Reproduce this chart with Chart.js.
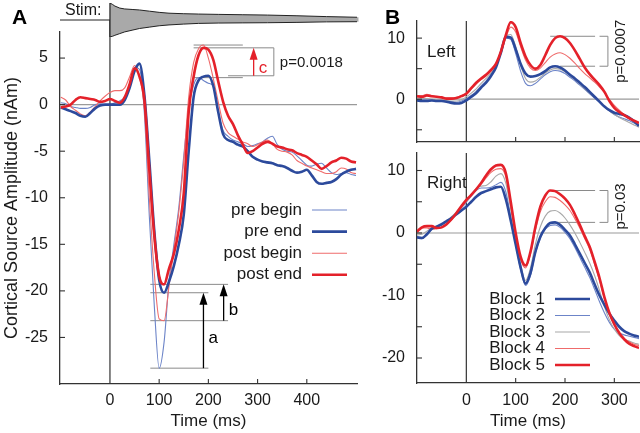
<!DOCTYPE html>
<html><head><meta charset="utf-8">
<script src="https://cdn.jsdelivr.net/npm/chart.js@4.4.1/dist/chart.umd.min.js"></script>
<style>
html,body{margin:0;padding:0;background:#fff;}
#wrap{position:relative;width:640px;height:433px;overflow:hidden;background:#fff;}
canvas{position:absolute;}
</style></head><body>
<div id="wrap">
<canvas id="cA" width="360" height="433" style="left:0;top:0;width:360px;height:433px"></canvas>
<canvas id="cStim" width="360" height="40" style="left:0;top:0;width:360px;height:40px"></canvas>
<canvas id="cBL" width="280" height="145" style="left:360px;top:0;width:280px;height:145px"></canvas>
<canvas id="cBR" width="280" height="288" style="left:360px;top:145px;width:280px;height:288px"></canvas>
</div>
<script>
// ---------------- DATA ----------------
const timeA = [-100,-90,-80,-70,-60,-50,-40,-30,-20,-10,0,10,20,30,40,50,60,70,80,90,100,110,120,130,140,150,160,170,180,190,200,210,220,230,240,250,260,270,280,290,300,310,320,330,340,350,360,370,380,390,400,410,420,430,440,450,460,470,480,490,500];
const seriesA = ['pre begin','pre end','post begin','post end'];
const preBegin = [
 0.2,0.1,-0.2,-0.3,-0.4,-0.4,-0.3,0.0,0.1,0.0,
 0.0,0.2,0.4,0.8,2.0,4.0,3.8,-1.0,-12.0,-21.5,
 -28.3,-25.5,-19.0,-15.0,-11.0,-5.5,-0.5,2.1,2.9,2.6,
 2.3,2.0,-0.8,-2.8,-3.4,-3.8,-4.0,-4.2,-4.5,-4.4,
 -4.2,-4.0,-3.6,-3.4,-4.3,-4.8,-5.0,-5.1,-5.5,-6.0,
 -6.5,-6.6,-6.4,-6.3,-6.8,-7.3,-7.5,-7.4,-7.3,-7.5,
 -7.6];
const preEnd = [
 -0.3,-0.5,-0.7,-0.9,-1.2,-1.3,-0.9,-0.4,-0.1,0.0,
 0.0,0.0,0.0,0.5,1.8,3.6,4.4,1.0,-6.0,-13.5,
 -18.8,-20.2,-19.0,-17.3,-15.0,-11.8,-5.0,0.8,2.6,3.0,
 3.1,2.0,-0.8,-3.2,-3.8,-4.0,-4.3,-4.5,-5.0,-5.6,
 -5.9,-6.1,-6.2,-6.3,-6.5,-6.6,-6.8,-7.1,-7.3,-7.2,
 -7.0,-7.6,-8.3,-8.5,-8.4,-8.3,-8.0,-7.5,-7.2,-7.0,
 -6.9];
const postBegin = [
 0.8,0.5,-0.2,-0.6,-1.0,-1.2,-0.8,-0.2,0.4,0.9,
 1.3,1.5,1.5,1.8,3.0,4.2,3.0,-0.5,-10.0,-18.0,
 -23.0,-23.2,-19.5,-15.5,-11.5,-6.0,0.8,4.5,6.0,6.4,
 5.0,2.8,0.3,-2.0,-3.0,-3.4,-3.7,-4.0,-4.2,-4.5,
 -4.3,-4.0,-3.8,-4.2,-4.8,-5.0,-5.1,-5.4,-6.0,-6.3,
 -6.6,-6.8,-7.0,-7.2,-7.4,-7.4,-7.2,-6.8,-6.9,-7.3,
 -7.4];
const postEnd = [
 -0.3,-0.2,0.0,0.5,0.8,0.7,0.6,0.5,0.3,0.4,
 0.6,0.4,0.2,0.8,2.2,3.9,3.0,0.5,-7.0,-14.0,
 -18.4,-19.3,-17.6,-16.0,-13.4,-9.5,-0.8,3.0,5.3,6.1,
 5.9,4.8,2.5,0.3,-1.2,-2.1,-3.3,-4.3,-5.2,-5.0,
 -4.6,-4.2,-4.0,-4.2,-4.5,-4.6,-4.8,-4.9,-5.2,-5.4,
 -5.6,-6.0,-6.4,-6.9,-6.6,-6.2,-6.0,-5.7,-5.8,-6.1,
 -6.2];
const ticksAx = [0,100,200,300,400];
const ticksAy = [-25,-20,-15,-10,-5,0,5];

const timeStim = [0,5,10,20,30,45,60,80,100,120,150,180,220,270,320,380,440,505];
const stimUpper = [1.0,0.92,0.82,0.7,0.65,0.62,0.59,0.52,0.45,0.4,0.37,0.35,0.33,0.31,0.29,0.25,0.2,0.16];
const stimLower = [-1.0,-0.96,-0.9,-0.8,-0.7,-0.6,-0.5,-0.42,-0.34,-0.29,-0.24,-0.2,-0.18,-0.17,-0.16,-0.14,-0.11,-0.1];

const timeB = [-100,-90,-80,-70,-60,-50,-40,-30,-20,-10,0,10,20,30,40,50,60,70,80,90,100,110,120,130,140,150,160,170,180,190,200,210,220,230,240,250,260,270,280,290,300,310,320,330,340,350];
const blocks = ['Block 1','Block 2','Block 3','Block 4','Block 5'];
const leftB1 = [-0.2,-0.3,-0.3,-0.2,-0.3,-0.3,-0.4,-0.6,-0.7,-0.6, -0.2,0.4,1.0,1.9,2.7,3.8,5.2,7.6,10.2,10.1, 8.2,5.8,4.2,3.7,3.8,4.1,4.6,5.2,5.4,5.2, 4.7,4.0,3.4,2.7,2.0,1.2,0.4,-0.4,-1.2,-1.8, -2.2,-2.4,-2.6,-3.0,-3.6,-4.4];
const leftB2 = [0.0,-0.1,-0.1,-0.1,-0.2,-0.2,-0.3,-0.4,-0.5,-0.3, 0.1,0.6,1.3,2.2,3.0,4.0,5.4,7.8,10.0,9.8, 7.5,4.6,2.6,2.2,2.6,3.3,4.0,4.5,4.7,4.6, 4.2,3.6,3.0,2.3,1.6,0.9,0.2,-0.5,-1.2,-1.9, -2.5,-2.9,-3.2,-3.5,-3.9,-4.3];
const leftB3 = [0.2,0.1,0.1,0.0,-0.1,-0.1,-0.2,-0.3,-0.3,-0.1, 0.4,1.0,1.7,2.6,3.4,4.3,5.6,7.9,10.3,10.6, 8.6,5.6,3.4,2.8,3.0,3.6,4.3,4.8,5.0,4.9, 4.5,3.9,3.2,2.5,1.7,1.0,0.3,-0.4,-1.2,-1.9, -2.5,-3.0,-3.4,-3.8,-4.2,-4.6];
const leftB4 = [0.6,0.6,0.8,0.6,0.4,0.3,0.2,0.2,0.3,0.6, 1.0,1.7,2.5,3.2,3.8,4.6,5.6,7.5,10.0,11.8, 11.0,8.6,6.4,5.1,4.7,5.1,6.0,6.9,7.4,7.6, 7.3,6.7,5.9,5.0,4.2,3.5,2.8,2.0,1.1,0.0, -1.0,-1.8,-2.5,-3.2,-3.7,-4.2];
const leftB5 = [0.5,0.4,0.6,0.5,0.4,0.3,0.1,0.1,0.2,0.5, 0.9,1.8,2.7,3.4,4.0,4.8,5.8,7.8,10.5,12.6, 11.8,9.2,7.0,5.6,5.0,5.6,7.2,8.9,10.0,10.3, 10.0,9.2,8.0,6.6,5.2,4.1,3.2,2.3,1.2,-0.3, -1.4,-2.1,-2.6,-3.1,-3.5,-3.9];
const rightB1 = [-0.7,-0.8,-0.2,0.7,1.0,1.4,1.9,2.4,3.0,3.6, 4.2,5.0,5.8,6.4,6.7,7.0,7.3,7.4,5.4,2.0, -1.8,-5.5,-8.1,-6.4,-3.0,-0.6,0.8,1.6,1.7,1.3, 0.5,-0.4,-1.8,-3.3,-4.8,-6.3,-8.2,-10.0,-11.5,-12.9, -14.0,-15.0,-15.7,-16.1,-16.4,-16.6];
const rightB2 = [-0.6,-0.9,-0.3,0.6,1.0,1.3,1.8,2.5,3.2,4.0, 4.9,5.9,6.8,7.2,7.2,7.3,7.7,8.1,6.6,2.6, -1.8,-5.8,-8.4,-6.8,-3.2,-0.8,0.6,1.2,1.3,0.9, 0.1,-0.9,-2.3,-3.9,-5.5,-7.1,-9.0,-11.0,-12.8,-14.3, -15.4,-16.0,-16.3,-16.5,-16.7,-16.9];
const rightB3 = [-0.3,-0.2,0.3,0.8,1.1,1.4,1.9,2.6,3.4,4.3, 5.2,6.2,7.1,7.5,7.6,8.2,9.1,9.5,8.0,3.8, -0.9,-5.0,-7.6,-5.6,-1.8,1.0,2.7,3.5,3.6,3.2, 2.4,1.3,0.0,-1.5,-3.1,-4.8,-6.8,-9.2,-11.8,-13.9, -15.4,-16.4,-17.0,-17.3,-17.6,-17.8];
const rightB4 = [0.5,0.8,0.8,0.6,0.7,0.9,1.4,2.1,3.1,4.1, 5.1,6.0,6.9,7.8,8.8,9.7,10.2,10.3,9.0,4.6, -0.3,-4.2,-5.6,-3.4,0.4,3.4,5.0,5.8,5.7,5.2, 4.5,3.6,2.3,0.8,-0.9,-2.6,-5.0,-7.6,-10.5,-12.9, -14.8,-16.0,-16.9,-17.4,-17.8,-18.0];
const rightB5 = [0.2,0.9,1.1,1.1,0.8,0.9,1.4,2.2,3.2,4.3, 5.3,6.1,7.0,8.0,9.2,10.2,10.8,10.9,9.6,5.0, 0.0,-3.8,-5.2,-3.0,1.0,4.2,6.0,6.8,6.7,6.2, 5.5,4.5,3.0,1.3,-0.5,-2.2,-4.6,-7.2,-10.3,-12.8, -14.6,-16.0,-17.0,-17.7,-18.1,-18.4];
const ticksBx = [0,100,200,300];
const ticksBLeftY = [0,10];
const ticksBRightY = [-20,-10,0,10];
const pLeft = 'p=0.0007', pRight = 'p=0.03', pA = 'p=0.0018';

// ---------------- STYLE ----------------
const FONT = '"Liberation Sans", Arial, Helvetica, sans-serif';
const C = {thickBlue:'#2c4a9c', thinBlue:'#6c84c8', thickRed:'#e4212a', thinRed:'#ef6b6b', gray:'#a8a8a8',
           axis:'#333', zero:'#9a9a9a', ref:'#8a8a8a', text:'#1a1a1a', stim:'#a9a9a9'};
Chart.defaults.font.family = FONT;
Chart.defaults.color = C.text;

function pts(t, v){ return t.map((x,i)=>({x:x, y:v[i]})); }
function ds(label, t, v, color, w, order){
  return {label, data: pts(t,v), borderColor: color, borderWidth: w, pointRadius: 0, fill: false,
          cubicInterpolationMode: 'monotone', order};
}
function ext(t, v, t0, t1, fn){ return fn(...v.filter((_,i)=>t[i]>=t0 && t[i]<=t1)); }
function hline(ctx, x0, x1, y){ ctx.beginPath(); ctx.moveTo(x0,y); ctx.lineTo(x1,y); ctx.stroke(); }
function vline(ctx, x, y0, y1){ ctx.beginPath(); ctx.moveTo(x,y0); ctx.lineTo(x,y1); ctx.stroke(); }
function arrowUp(ctx, x, yb, yt, color){
  ctx.strokeStyle = color; ctx.fillStyle = color; ctx.lineWidth = 1.3;
  vline(ctx, x, yb, yt + 9);
  ctx.beginPath(); ctx.moveTo(x, yt); ctx.lineTo(x-4, yt+12); ctx.lineTo(x+4, yt+12); ctx.closePath(); ctx.fill();
}
function inwardTicks(chart, xs, ys){
  const {ctx, chartArea:a, scales:{x,y}} = chart;
  ctx.save(); ctx.strokeStyle = C.axis; ctx.lineWidth = 1.1;
  xs.forEach(v=>vline(ctx, x.getPixelForValue(v), a.bottom, a.bottom-5));
  ys.forEach(v=>hline(ctx, a.left, a.left+5, y.getPixelForValue(v)));
  ctx.restore();
}
function scales(o){
  return {
    x: {type:'linear', min:o.xmin, max:o.xmax,
      afterFit: s=>{ s.height = o.xh; s.paddingLeft = 0; s.paddingRight = 0; },
      afterBuildTicks: s=>{ s.ticks = o.xticks.map(v=>({value:v})); },
      grid:{display:false, drawTicks:false}, border:{display:true, color:C.axis, width:1.3},
      ticks:{display:o.xlabels, color:C.text, font:{size:16}, padding:o.xpad||7, maxRotation:0, autoSkip:false},
      title:{display:!!o.xtitle, text:o.xtitle||'', color:C.text, font:{size:17}, padding:{top:0,bottom:1}}
    },
    y: {type:'linear', min:o.ymin, max:o.ymax,
      afterFit: s=>{ s.width = o.yw; s.paddingTop = 0; s.paddingBottom = 0; },
      afterBuildTicks: s=>{ s.ticks = o.yticks.map(v=>({value:v})); },
      grid:{display:false, drawTicks:false}, border:{display:true, color:C.axis, width:1.3},
      ticks:{color:C.text, font:{size:16}, padding:12, autoSkip:false},
      title:{display:!!o.ytitle, text:o.ytitle||'', color:C.text, font:{size:18}, padding:{top:1,bottom:0}}
    }
  };
}
const baseOpts = {responsive:false, animation:false, events:[], plugins:{legend:{display:false}, tooltip:{enabled:false}}};

// ---------------- PANEL A ----------------
const styleA = [
  {color:C.thinBlue, w:1.1, order:3},
  {color:C.thickBlue, w:2.6, order:1},
  {color:C.thinRed, w:1.1, order:2},
  {color:C.thickRed, w:2.6, order:0}
];
const valuesA = [preBegin, preEnd, postBegin, postEnd];

const decoA = {
  id:'decoA',
  beforeDatasetsDraw(chart){
    const {ctx, chartArea:a, scales:{x,y}} = chart;
    const X = v=>x.getPixelForValue(v), Y = v=>y.getPixelForValue(v);
    ctx.save();
    ctx.strokeStyle = C.zero; ctx.lineWidth = 1.2; hline(ctx, a.left, a.right, Y(0));
    ctx.strokeStyle = C.axis; ctx.lineWidth = 1.2; vline(ctx, X(0), a.top-12, a.bottom);
    const pkPB = ext(timeA, preBegin, 150, 260, Math.max), pkPE = ext(timeA, preEnd, 150, 260, Math.max);
    const pkQB = ext(timeA, postBegin, 150, 260, Math.max), pkQE = ext(timeA, postEnd, 150, 260, Math.max);
    ctx.strokeStyle = C.ref; ctx.lineWidth = 1;
    hline(ctx, X(170), X(270), Y(pkQB));
    hline(ctx, X(170), X(333), Y(pkQE));
    hline(ctx, X(170), X(270), Y(pkPB));
    hline(ctx, X(240), X(333), Y(pkPE));
    vline(ctx, X(333), Y(pkQE), Y(pkPE));
    const trPB = Math.min(...preBegin), trPE = Math.min(...preEnd), trQB = Math.min(...postBegin), trQE = Math.min(...postEnd);
    hline(ctx, X(82), X(240), Y(trQE));
    hline(ctx, X(82), X(200), Y(trPE));
    hline(ctx, X(82), X(240), Y(trQB));
    hline(ctx, X(82), X(200), Y(trPB));
    ctx.restore();
  },
  afterDraw(chart){
    const {ctx, chartArea:a, scales:{x,y}} = chart;
    const X = v=>x.getPixelForValue(v), Y = v=>y.getPixelForValue(v);
    inwardTicks(chart, [100,200,300,400], ticksAy);
    ctx.save();
    const pkPE = ext(timeA, preEnd, 150, 260, Math.max), pkQE = ext(timeA, postEnd, 150, 260, Math.max);
    const trPB = Math.min(...preBegin), trPE = Math.min(...preEnd), trQB = Math.min(...postBegin), trQE = Math.min(...postEnd);
    ctx.font = '17px ' + FONT; ctx.textBaseline = 'middle'; ctx.textAlign = 'left';
    arrowUp(ctx, X(190), Y(trPB), Y(trPE), '#000');
    arrowUp(ctx, X(231), Y(trQB), Y(trQE), '#000');
    ctx.fillStyle = '#000';
    ctx.fillText('a', X(190)+5, (Y(trPB)+Y(trPE))/2+8);
    ctx.fillText('b', X(231)+5, (Y(trQB)+Y(trQE))/2+8);
    arrowUp(ctx, X(292), Y(pkPE), Y(pkQE), C.thickRed);
    ctx.fillStyle = C.thickRed;
    ctx.fillText('c', X(292)+5, (Y(pkPE)+Y(pkQE))/2+7);
    ctx.fillStyle = C.text; ctx.font = '15px ' + FONT;
    ctx.fillText(pA, X(333)+6, (Y(pkPE)+Y(pkQE))/2+1);
    ctx.font = '17px ' + FONT;
    seriesA.forEach((lab,i)=>{
      const yy = a.top + 178 + i*21.6;
      ctx.fillStyle = C.text; ctx.textAlign = 'right'; ctx.fillText(lab, a.left+242, yy);
      ctx.strokeStyle = styleA[i].color; ctx.lineWidth = styleA[i].w;
      hline(ctx, a.left+252, a.left+287, yy);
    });
    ctx.fillStyle = '#000'; ctx.textAlign = 'left'; ctx.textBaseline = 'alphabetic';
    ctx.font = 'bold 21px ' + FONT; ctx.fillText('A', 12, 24);
    ctx.restore();
  }
};

new Chart(document.getElementById('cA'), {
  type:'line',
  data:{datasets: seriesA.map((s,i)=>ds(s, timeA, valuesA[i], styleA[i].color, styleA[i].w, styleA[i].order))},
  options:Object.assign({}, baseOpts, {
    layout:{padding:{top:32, right:3, left:0, bottom:0}},
    scales: scales({xmin:-101.5, xmax:502, xh:49, xticks:ticksAx, xlabels:true, xpad:7, xtitle:'Time (ms)',
                    ymin:-30, ymax:7.8, yw:60, yticks:ticksAy, ytitle:'Cortical Source Amplitude (nAm)'})
  }),
  plugins:[decoA]
});

// ---------------- STIMULUS ----------------
const decoStim = {
  id:'decoStim',
  beforeDatasetsDraw(chart){
    const {ctx, scales:{x,y}} = chart;
    ctx.save();
    ctx.fillStyle = C.stim;
    ctx.beginPath();
    timeStim.forEach((t,i)=>{ const px = x.getPixelForValue(t), py = y.getPixelForValue(stimUpper[i]); i ? ctx.lineTo(px,py) : ctx.moveTo(px,py); });
    for (let i = timeStim.length-1; i >= 0; i--) ctx.lineTo(x.getPixelForValue(timeStim[i]), y.getPixelForValue(stimLower[i]));
    ctx.closePath(); ctx.fill();
    ctx.restore();
  },
  afterDraw(chart){
    const {ctx, scales:{x,y}} = chart;
    ctx.save();
    ctx.strokeStyle = '#222'; ctx.lineWidth = 1.2;
    vline(ctx, x.getPixelForValue(0), y.getPixelForValue(stimUpper[0]), y.getPixelForValue(stimLower[0]));
    ctx.fillStyle = C.text; ctx.font = '16px ' + FONT; ctx.textAlign = 'left'; ctx.textBaseline = 'alphabetic';
    ctx.fillText('Stim:', 65, 15);
    ctx.restore();
  }
};
new Chart(document.getElementById('cStim'), {
  type:'line',
  data:{datasets:[
    {data:pts(timeStim, stimUpper), borderColor:'#222', borderWidth:1, fill:false, pointRadius:0, tension:0},
    {data:pts(timeStim, stimLower), borderColor:'#222', borderWidth:1, fill:false, pointRadius:0, tension:0},
    {data:[{x:-101.5,y:0},{x:0,y:0}], borderColor:'#222', borderWidth:1.2, fill:false, pointRadius:0}
  ]},
  options:Object.assign({}, baseOpts, {
    layout:{padding:{top:3, bottom:3, left:60, right:3}},
    scales:{x:{type:'linear', display:false, min:-101.5, max:502}, y:{display:false, min:-1, max:1}}
  }),
  plugins:[decoStim]
});

// ---------------- PANEL B ----------------
const styleB = [
  {color:C.thickBlue, w:2.6, order:1},
  {color:C.thinBlue, w:1.1, order:4},
  {color:C.gray, w:1.1, order:3},
  {color:C.thinRed, w:1.1, order:2},
  {color:C.thickRed, w:2.6, order:0}
];
function decoB(id, vals, label, labelDy, pText, t0Top, t0Bot, yTicksIn, legend, letter){
  return {
    id,
    beforeDatasetsDraw(chart){
      const {ctx, chartArea:a, scales:{x,y}} = chart;
      const X = v=>x.getPixelForValue(v), Y = v=>y.getPixelForValue(v);
      ctx.save();
      ctx.strokeStyle = C.zero; ctx.lineWidth = 1.2; hline(ctx, a.left, a.right, Y(0));
      ctx.strokeStyle = C.axis; ctx.lineWidth = 1.2; vline(ctx, X(0), a.top, a.bottom);
      const top = ext(timeB, vals[4], 140, 260, Math.max), bot = ext(timeB, vals[0], 140, 260, Math.max);
      ctx.strokeStyle = C.ref; ctx.lineWidth = 1;
      hline(ctx, X(t0Top), X(261), Y(top)); hline(ctx, X(270), X(287), Y(top));
      hline(ctx, X(t0Bot), X(261), Y(bot)); hline(ctx, X(270), X(287), Y(bot));
      vline(ctx, X(287), Y(top), Y(bot));
      ctx.fillStyle = C.text; ctx.font = '15px ' + FONT;
      ctx.translate(X(287)+13, (Y(top)+Y(bot))/2); ctx.rotate(-Math.PI/2);
      ctx.textAlign = 'center'; ctx.textBaseline = 'middle'; ctx.fillText(pText, 0, 0);
      ctx.restore();
    },
    afterDraw(chart){
      const {ctx, chartArea:a} = chart;
      inwardTicks(chart, [100,200,300], yTicksIn);
      ctx.save();
      ctx.fillStyle = C.text; ctx.font = '17px ' + FONT; ctx.textAlign = 'left'; ctx.textBaseline = 'middle';
      ctx.fillText(label, a.left+10, a.top+labelDy);
      if (legend){
        blocks.forEach((b,i)=>{
          const yy = a.top + 146 + i*16.5;
          ctx.fillStyle = C.text; ctx.textAlign = 'right'; ctx.fillText(b, a.left+128, yy);
          ctx.strokeStyle = styleB[i].color; ctx.lineWidth = styleB[i].w;
          hline(ctx, a.left+138, a.left+173, yy);
        });
      }
      if (letter){
        ctx.fillStyle = '#000'; ctx.textAlign = 'left'; ctx.textBaseline = 'alphabetic';
        ctx.font = 'bold 21px ' + FONT; ctx.fillText(letter, 25, 24);
      }
      ctx.restore();
    }
  };
}
const valsL = [leftB1, leftB2, leftB3, leftB4, leftB5];
const valsR = [rightB1, rightB2, rightB3, rightB4, rightB5];

new Chart(document.getElementById('cBL'), {
  type:'line',
  data:{datasets: blocks.map((b,i)=>ds(b, timeB, valsL[i], styleB[i].color, styleB[i].w, styleB[i].order))},
  options:Object.assign({}, baseOpts, {
    layout:{padding:{top:21, right:1, left:0, bottom:0}},
    scales: scales({xmin:-100, xmax:350, xh:3, xticks:ticksBx, xlabels:false,
                    ymin:-7, ymax:12.8, yw:57, yticks:ticksBLeftY})
  }),
  plugins:[decoB('decoBL', valsL, 'Left', 31, pLeft, 170, 190, [-5,0,5,10], false, 'B')]
});

new Chart(document.getElementById('cBR'), {
  type:'line',
  data:{datasets: blocks.map((b,i)=>ds(b, timeB, valsR[i], styleB[i].color, styleB[i].w, styleB[i].order))},
  options:Object.assign({}, baseOpts, {
    layout:{padding:{top:8, right:1, left:0, bottom:0}},
    scales: scales({xmin:-100, xmax:350, xh:50, xticks:ticksBx, xlabels:true, xpad:8, xtitle:'Time (ms)',
                    ymin:-24, ymax:12.8, yw:57, yticks:ticksBRightY})
  }),
  plugins:[decoB('decoBR', valsR, 'Right', 30, pRight, 180, 180, [-20,-15,-10,-5,0,5,10], true, null)]
});
</script>
</body></html>
